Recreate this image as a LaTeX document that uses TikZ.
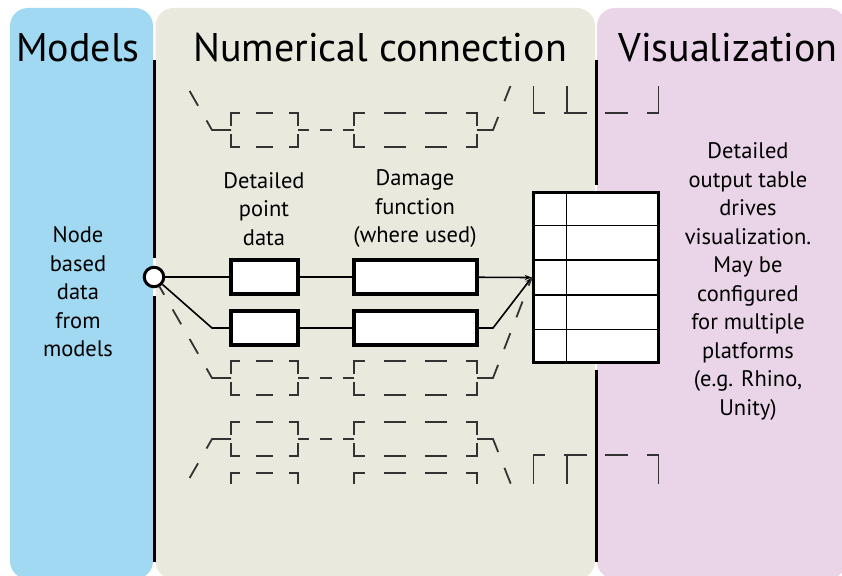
\documentclass[tikz,border=0pt]{standalone}
\usepackage{fontspec}
\setmainfont{PT Sans}
\usepackage{tikz}
\usetikzlibrary{calc, arrows.meta}

\definecolor{modelsblue}{RGB}{160,217,241}
\definecolor{linkbeige}{RGB}{233,233,222}
\definecolor{vizpink}{RGB}{234,212,232}

% dashed placeholder box, corners kept solid
\newcommand{\ghostbox}[2]{%
  \draw[ghost, #2] (#1.north west) -- (#1.north east);
  \draw[ghost, #2] (#1.south west) -- (#1.south east);
  \draw[ghost, ghostside] (#1.north west) -- (#1.south west);
  \draw[ghost, ghostside] (#1.north east) -- (#1.south east);}

\begin{document}
\begin{tikzpicture}[x=1pt, y=-1pt,
    title/.style={font=\fontsize{40}{48}\selectfont, anchor=base, inner sep=0pt},
    note/.style={font=\fontsize{22.5}{28.5}\selectfont, align=center, inner sep=0pt},
    cell/.style={draw, line width=3.4pt, fill=white, minimum width=#1, minimum height=34pt, inner sep=0pt},
    slot/.style={minimum width=#1, minimum height=34pt, inner sep=0pt, outer sep=0pt},
    dot/.style={circle, draw, line width=3pt, fill=white, minimum size=19.5pt, inner sep=0pt},
    sep/.style={line width=3pt},
    rule/.style={line width=1.5pt},
    link/.style={line width=1.6pt},
    ghost/.style={draw=black!80, line width=1.8pt, line cap=rect},
    ghostside/.style={dash pattern=on 24pt off 10pt, dash phase=12pt},
    ghostsmall/.style={dash pattern=on 16pt off 17.5pt, dash phase=8pt},
    ghostwide/.style={dash pattern=on 20.5pt off 20.5pt, dash phase=10.25pt},
    ghosttab/.style={dash pattern=on 21pt off 20.67pt, dash phase=10.5pt},
    ghostmid/.style={ghost, line cap=butt, dash pattern=on 11.2pt off 11.2pt},
    ghostlink/.style={ghost, line cap=butt, dash pattern=on 30pt off 17pt on 17pt off 17pt on 17pt off 17pt on 17pt off 17pt}]
  \useasboundingbox (0,0) rectangle (842,575);

  % columns
  \fill[modelsblue, rounded corners=18pt] (10,8) rectangle (153,579);
  \fill[linkbeige, rounded corners=18pt] (155.5,8) rectangle (595,579);
  \fill[vizpink, rounded corners=18pt] (597,8) rectangle (846,579);

  \node[title] (hmodels) at (78,62) {Models};
  \node[title] (hnum) at (380,62) {Numerical connection};
  \node[title] (hviz) at (728,62) {Visualization};

  % main chain
  \node[dot] (src) at (154,277) {};
  \node[cell=67pt] (pt1) at (264.5,277) {};
  \node[cell=123pt] (dmg1) at (415.5,277) {};
  \node[cell=67pt] (pt2) at (264.5,328) {};
  \node[cell=123pt] (dmg2) at (415.5,328) {};
  \node[cell=125pt, minimum height=170pt] (out) at (596,277.5) {};
  \coordinate (k2) at (212,328);
  \coordinate (m2) at (493,328);

  \foreach \i in {1,...,4}
    \draw[rule] ($(out.north west)!\i/5!(out.south west)$) -- ($(out.north east)!\i/5!(out.south east)$);
  \draw[rule] ($(out.north west)!0.27!(out.north east)$) -- ($(out.south west)!0.27!(out.south east)$);

  \draw[sep] (154,60) -- ($(src.north)+(0,-8)$);
  \draw[sep] ($(src.south)+(0,8)$) -- (154,562);
  \draw[sep] (596,60) -- ($(out.north)+(0,-6)$);
  \draw[sep] ($(out.south)+(0,6)$) -- (596,562);

  \draw[link] (src) -- (pt1);
  \draw[link] (pt1) -- (dmg1);
  \draw[link, -{Stealth[length=7pt, width=5pt]}] (dmg1) -- (out.west);
  \draw[link] (src) -- (k2) -- (pt2);
  \draw[link] (pt2) -- (dmg2);
  \draw[link, -{Stealth[length=7pt, width=5pt]}] (dmg2) -- (m2) -- (out.west);

  % third, optional chain
  \node[slot=67pt] (pt3) at (264.5,378) {};
  \node[slot=123pt] (dmg3) at (415.5,378) {};
  \coordinate (k3) at (212,378);
  \coordinate (m3) at (493,378);
  \ghostbox{pt3}{ghostsmall}
  \ghostbox{dmg3}{ghostwide}
  \draw[ghostlink] (pt3) -- (k3) -- (src);
  \draw[ghostmid] (pt3) -- (dmg3);
  \draw[ghostlink] (dmg3) -- (m3) -- (out.west);

  % neighbouring chains, cut off above and below
  \begin{scope}
    \clip (0,87) rectangle (842,483);
    \coordinate (srcup) at (154,29);
    \coordinate (outup) at (533,29);
    \node[slot=125pt, minimum height=170pt] (tabup) at (596,28) {};
    \node[slot=67pt] (ptA) at (264.5,130) {};
    \node[slot=123pt] (dmgA) at (415.5,130) {};
    \coordinate (kA) at (212,130);
    \coordinate (mA) at (493,130);
    \ghostbox{ptA}{ghostsmall}
    \ghostbox{dmgA}{ghostwide}
    \draw[ghostlink] (ptA) -- (kA) -- (srcup);
    \draw[ghostmid] (ptA) -- (dmgA);
    \draw[ghostlink] (dmgA) -- (mA) -- (outup);
    \draw[ghost, ghosttab] (tabup.south west) -- (tabup.south east);
    \draw[ghost] (tabup.south west) -- ++(0,-40);
    \draw[ghost] (tabup.south east) -- ++(0,-40);
    \draw[ghost] ($(tabup.south west)!0.27!(tabup.south east)$) -- ++(0,-40);

    \coordinate (srcdown) at (154,540);
    \coordinate (outdown) at (533,540);
    \node[slot=125pt, minimum height=170pt] (tabdown) at (596,540) {};
    \node[slot=67pt] (ptC) at (264.5,439) {};
    \node[slot=123pt] (dmgC) at (415.5,439) {};
    \node[slot=67pt] (ptD) at (264.5,490) {};
    \node[slot=123pt] (dmgD) at (415.5,490) {};
    \coordinate (kC) at (212,439);
    \coordinate (mC) at (493,439);
    \ghostbox{ptC}{ghostsmall}
    \ghostbox{dmgC}{ghostwide}
    \ghostbox{ptD}{ghostsmall}
    \ghostbox{dmgD}{ghostwide}
    \draw[ghostlink] (ptC) -- (kC) -- (srcdown);
    \draw[ghostmid] (ptC) -- (dmgC);
    \draw[ghostlink] (dmgC) -- (mC) -- (outdown);
    \draw[ghost, ghosttab] (tabdown.north west) -- (tabdown.north east);
    \draw[ghost] (tabdown.north west) -- ++(0,40);
    \draw[ghost] (tabdown.north east) -- ++(0,40);
    \draw[ghost] ($(tabdown.north west)!0.27!(tabdown.north east)$) -- ++(0,40);
  \end{scope}

  % texts
  \node[note] (srcinfo) at (78,292) {Node\\based\\data\\from\\models};
  \node[note] (ptinfo) at (264,209) {Detailed\\point\\data};
  \node[note] (dmginfo) at (415,209) {Damage\\function\\(where used)};
  \node[note] (vizinfo) at (748,281.5) {Detailed\\output table\\drives\\visualization.\\May be\\configured\\for multiple\\platforms\\(e.g. Rhino,\\Unity)};
\end{tikzpicture}
\end{document}
